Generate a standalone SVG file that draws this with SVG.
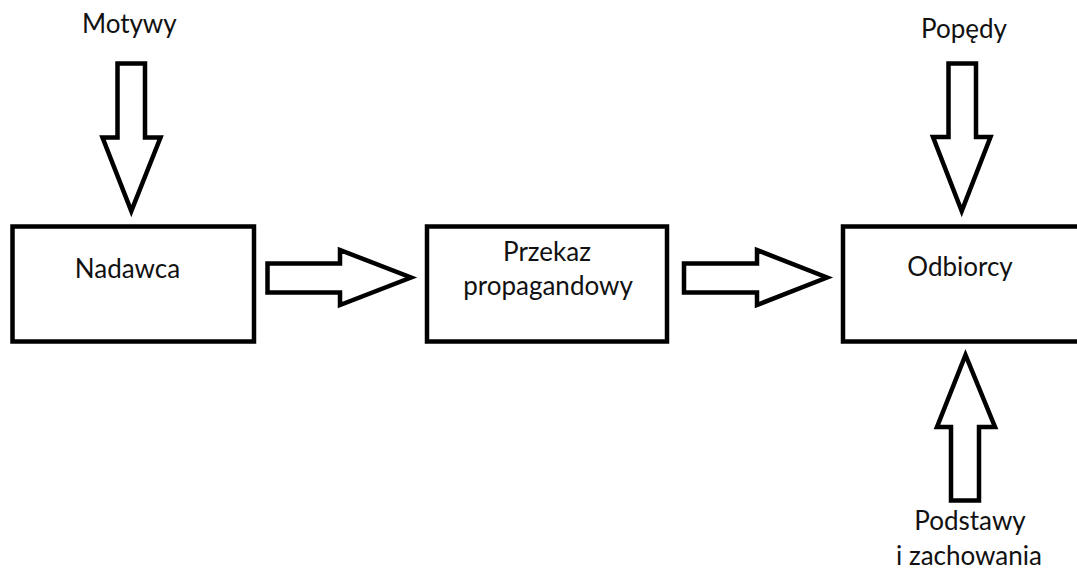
<svg xmlns="http://www.w3.org/2000/svg" width="1077" height="570" viewBox="0 0 1077 570">
  <style>
    .box { fill: #ffffff; stroke: #000000; stroke-width: 4.5; }
    .arrow { fill: #ffffff; stroke: #000000; stroke-width: 4.5; stroke-linejoin: miter; stroke-miterlimit: 10; }
    .label { font-family: Lato, "Liberation Sans", sans-serif; font-size: 26px; fill: #111111; text-anchor: middle; }
  </style>
  <rect width="1077" height="570" fill="#ffffff"/>

  <!-- block arrows -->
  <g id="connectors">
    <!-- Motywy -> Nadawca -->
    <polygon class="arrow" points="117.5,63.5 145,63.5 145,137.5 160.5,137.5 131.3,211 102.5,137.5 117.5,137.5"/>
    <!-- Nadawca -> Przekaz -->
    <polygon class="arrow" points="267.5,263.5 340,263.5 340,250 411,277.5 340,305 340,292.5 267.5,292.5"/>
    <!-- Przekaz -> Odbiorcy -->
    <polygon class="arrow" points="684,263.5 757,263.5 757,250 827,277.5 757,305 757,292.5 684,292.5"/>
    <!-- Popędy -> Odbiorcy -->
    <polygon class="arrow" points="948.5,63.5 976,63.5 976,137 990.5,137 961.7,211 933,137 948.5,137"/>
    <!-- Podstawy i zachowania -> Odbiorcy -->
    <polygon class="arrow" points="951,500.5 979,500.5 979,427 995,427 965.5,355 937,427 951,427"/>
  </g>

  <g id="nadawca">
    <rect class="box" x="12.5" y="226.5" width="241.5" height="115"/>
    <text class="label" x="127.5" y="277.5">Nadawca</text>
  </g>

  <g id="przekaz">
    <rect class="box" x="427" y="226.5" width="240" height="115"/>
    <text class="label" x="547" y="261">Przekaz</text>
    <text class="label" x="548" y="295">propagandowy</text>
  </g>

  <g id="odbiorcy">
    <rect class="box" x="843" y="226.5" width="260" height="115"/>
    <text class="label" x="960" y="276">Odbiorcy</text>
  </g>

  <g id="motywy">
    <text class="label" x="129.3" y="33">Motywy</text>
  </g>

  <g id="popedy">
    <text class="label" x="964" y="38">Popędy</text>
  </g>

  <g id="podstawy">
    <text class="label" x="970" y="530">Podstawy</text>
    <text class="label" x="969" y="565">i zachowania</text>
  </g>
</svg>
